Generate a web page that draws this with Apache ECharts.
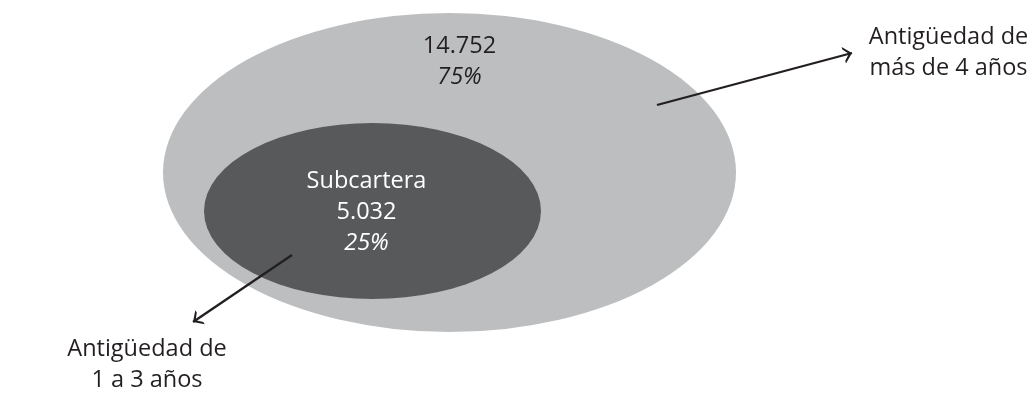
<!DOCTYPE html>
<html>
<head>
<meta charset="utf-8">
<script src="https://cdn.jsdelivr.net/npm/echarts@6/dist/echarts.min.js"></script>
<style>
html,body{margin:0;padding:0;background:#fff;}
#chart{width:1032px;height:393px;}
</style>
</head>
<body>
<div id="chart"></div>
<script>
// ---- data ----
var categories = ['Antigüedad de más de 4 años', 'Subcartera'];
var values = [14752, 5032];
var percents = [75, 25];
var seriesNames = ['Cartera total', 'Subcartera'];
var annotationTexts = ['Antigüedad de\nmás de 4 años', 'Antigüedad de\n1 a 3 años'];

// ---- layout (pixel space of the hidden full-canvas axes) ----
var layout = {
  centers: [[449.5, 172.5], [372.5, 211]],
  sizes: [[573, 319], [337, 176]],
  labelOffsets: [[10, -111], [-6, 1]],
  arrows: [
    [[657, 105], [852, 53]],
    [[292, 255], [193, 322]]
  ],
  annot: [[948.5, 53], [147, 365]]
};

function fmt(n) {
  return String(n).replace(/\B(?=(\d{3})+(?!\d))/g, '.');
}

var FONT = '"Open Sans", "Noto Sans", sans-serif';
var FS = 23.5;
var colors = ['#bcbec0', '#58595b'];

var chart = echarts.init(document.getElementById('chart'), null, {renderer: 'canvas'});

var scatterSeries = values.map(function (v, i) {
  var isSub = i === 1;
  var c = isSub ? '#ffffff' : '#231f20';
  return {
    name: seriesNames[i],
    type: 'scatter',
    silent: true,
    z: 2 + i,
    symbol: 'circle',
    symbolSize: layout.sizes[i],
    itemStyle: {color: colors[i], opacity: 1},
    emphasis: {disabled: true},
    label: {
      show: true,
      position: 'inside',
      offset: layout.labelOffsets[i],
      fontFamily: FONT,
      formatter: function () {
        return (isSub ? '{t|' + categories[1] + '}\n' : '') +
          '{v|' + fmt(v) + '}\n{p|' + percents[i] + '%}';
      },
      rich: {
        t: {fontFamily: FONT, fontSize: FS, lineHeight: 31, color: c, align: 'center'},
        v: {fontFamily: FONT, fontSize: FS, lineHeight: 31, color: c, align: 'center'},
        p: {fontFamily: FONT, fontSize: FS, lineHeight: 31, fontStyle: 'italic', color: c, align: 'center'}
      }
    },
    data: [[layout.centers[i][0], layout.centers[i][1], v]]
  };
});

var arrowHead = 'path://M5,0 M5,5 L10,10 L8.4,10 L5,6.9 L1.6,10 L0,10 Z';

var option = {
  animation: false,
  backgroundColor: '#ffffff',
  grid: {left: 0, right: 0, top: 0, bottom: 0, containLabel: false},
  xAxis: {type: 'value', min: 0, max: 1032, show: false},
  yAxis: {type: 'value', min: 0, max: 393, inverse: true, show: false},
  series: scatterSeries.concat([{
    type: 'lines',
    coordinateSystem: 'cartesian2d',
    silent: true,
    z: 10,
    symbol: ['none', arrowHead],
    symbolSize: [12, 17],
    lineStyle: {color: '#231f20', width: 2.3, opacity: 1, curveness: 0},
    data: layout.arrows.map(function (a) { return {coords: a}; })
  }]),
  graphic: annotationTexts.map(function (t, i) {
    return {
      type: 'text',
      x: layout.annot[i][0],
      y: layout.annot[i][1],
      z: 20,
      silent: true,
      style: {
        text: t,
        fontFamily: FONT,
        fontSize: FS,
        lineHeight: 31,
        fill: '#231f20',
        align: 'center',
        verticalAlign: 'middle'
      }
    };
  })
};
chart.setOption(option);
</script>
</body>
</html>
